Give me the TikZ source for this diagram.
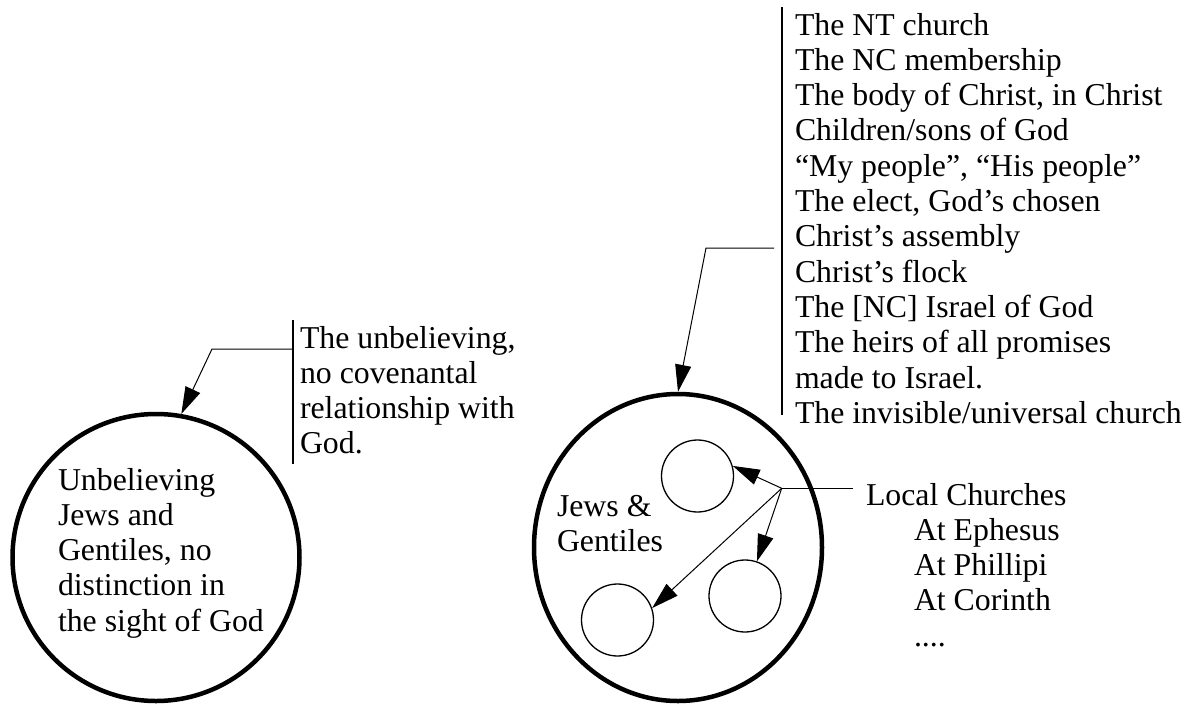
\documentclass[tikz,border=0pt]{standalone}
\usepackage{fontspec}
\setmainfont{Liberation Serif}
\usetikzlibrary{arrows.meta,shapes.geometric}
\begin{document}
\begin{tikzpicture}[x=1pt,y=-1pt,
  txt/.style={anchor=north west, inner sep=0pt, outer sep=0pt, align=left, font=\fontsize{31.8}{35.3}\selectfont},
  bigc/.style={draw, line width=4.5pt, inner sep=0pt},
  smallc/.style={circle, draw, line width=1.3pt, minimum size=72pt, inner sep=0pt},
  conn/.style={line width=1pt},
  arr/.style={conn, -{Triangle[length=27pt,width=16pt]}},
  bar/.style={line width=1.8pt}]
\useasboundingbox (0,0) rectangle (1195,705);

% big circles
\node[bigc, circle, minimum size=287pt] (L) at (156,557.5) {};
\node[bigc, ellipse, minimum width=288pt, minimum height=307pt] (R) at (678,547.5) {};

% local church circles
\node[smallc] (c1) at (697.5,476) {};
\node[smallc] (c2) at (745,596) {};
\node[smallc] (c3) at (617.5,620) {};

% texts
\node[txt] (ltxt) at (58,468) {Unbelieving\\Jews and\\Gentiles, no\\distinction in\\the sight of God};
\node[txt] (rtxt) at (557,495) {Jews \&\\Gentiles};
\node[txt] (unb) at (300,326) {The unbelieving,\\no covenantal\\relationship with\\God.};
\node[txt] (list) at (795,13) {The NT church\\The NC membership\\The body of Christ, in Christ\\Children/sons of God\\“My people”, “His people”\\The elect, God’s chosen\\Christ’s assembly\\Christ’s flock\\The [NC] Israel of God\\The heirs of all promises\\made to Israel.\\The invisible/universal church};
\node[txt] (local) at (866,483) {Local Churches\\\hspace*{48pt}At Ephesus\\\hspace*{48pt}At Phillipi\\\hspace*{48pt}At Corinth\\\hspace*{48pt}....};

% left bracket and arrow
\coordinate (lbt) at (293.3,320);
\coordinate (lbb) at (293.3,464);
\draw[bar] (lbt) -- (lbb);
\coordinate (lh) at (292,349);
\coordinate (lk) at (212,349);
\draw[arr] (lh) -- (lk) -- (L.80.4);

% right bracket and arrow
\coordinate (rbt) at (782,7);
\coordinate (rbb) at (782,415);
\draw[bar] (rbt) -- (rbb);
\coordinate (rh) at (774,248);
\coordinate (rk) at (706,248);
\draw[arr] (rh) -- (rk) -- (R.north);

% local churches pointer
\coordinate (hub) at (781.7,488.3);
\coordinate (hubend) at (853,488.3);
\draw[conn] (hub) -- (hubend);
\draw[arr] (hub) -- (c1.16.8);
\draw[arr] (hub) -- (c2.71.1);
\draw[arr] (hub) -- (c3.19);
\end{tikzpicture}
\end{document}
